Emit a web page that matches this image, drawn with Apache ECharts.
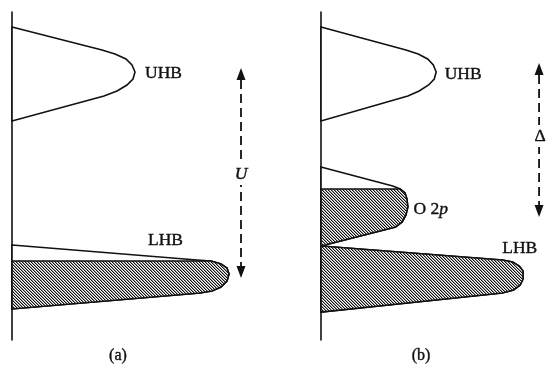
<!DOCTYPE html>
<html>
<head>
<meta charset="utf-8">
<script src="https://cdn.jsdelivr.net/npm/echarts@6/dist/echarts.min.js"></script>
<style>
  html, body { margin: 0; padding: 0; background: #fff; }
  #chart { width: 557px; height: 372px; }
</style>
</head>
<body>
<div id="chart"></div>
<script>
// band outlines as [density of states, energy] (arbitrary units)
const uhbA = [[0, 313], [90, 290], [103, 286], [114, 281], [120, 275], [123, 268], [121, 261], [115, 255], [105, 249], [92, 244], [0, 219]];
const lhbA = [[0, 95], [185, 80], [199, 79], [209, 76], [215, 72], [217, 66], [215, 59], [209, 53], [200, 49], [188, 47], [0, 31]];
const uhbB = [[0, 313], [90, 290], [103, 286], [113, 281], [119, 275], [122, 268], [120, 261], [114, 255], [104, 249], [92, 244], [0, 219]];
const o2pB = [[0, 173], [76, 154], [84, 151], [89, 147], [91, 141], [92, 133], [90, 125], [86, 118], [79, 113], [0, 94]];
const lhbB = [[0, 94], [192, 80], [203, 78], [210, 74], [214, 69], [214, 61], [211, 55], [204, 50], [192, 47], [0, 28]];

// occupied (hatched) up to this energy: 0 = empty band, Infinity = full band
const fermiUhb = 0;
const fermiA = 79;
const fermiO2p = 151;
const fermiLhbB = Infinity;

// energy gaps: [density position, top energy, bottom energy]
const gapU = [229, 272, 62];
const gapDelta = [231, 277, 123];

// annotations: [text, density, energy, align]
const labelsA = [
  ['UHB', 133, 267, 'left'],
  ['LHB', 136, 100, 'left'],
  ['{i|U}', 229, 166, 'center'],
  ['(a)', 106, -16, 'center']
];
const labelsB = [
  ['UHB', 131, 266, 'left'],
  ['{n|O 2}{i|p}', 98, 131, 'left'],
  ['LHB', 192, 92, 'left'],
  ['Δ', 232, 204, 'center'],
  ['(b)', 106, -16, 'center']
];

const chart = echarts.init(document.getElementById('chart'));

// diagonal hatch tile
const hatch = document.createElement('canvas');
hatch.width = 3;
hatch.height = 3;
const hctx = hatch.getContext('2d');
hctx.fillStyle = '#fff';
hctx.fillRect(0, 0, 3, 3);
for (let i = 0; i < 3; i++) {
  hctx.fillStyle = '#111';
  hctx.fillRect(i, i, 1, 1);
  hctx.fillStyle = '#999';
  hctx.fillRect((i + 1) % 3, i, 1, 1);
}

const FONT = '"Liberation Serif", "Times New Roman", serif';
const INK = '#111';

// keep the part of a polygon at or below energy f
function clipBelow(pts, f) {
  const out = [];
  for (let i = 0; i < pts.length; i++) {
    const a = pts[i], b = pts[(i + 1) % pts.length];
    const ain = a[1] <= f, bin = b[1] <= f;
    if (ain) out.push(a);
    if (ain !== bin) {
      const t = (f - a[1]) / (b[1] - a[1]);
      out.push([a[0] + t * (b[0] - a[0]), f]);
    }
  }
  return out;
}

function bandSeries(pts, fermi, g) {
  return {
    type: 'custom',
    xAxisIndex: g,
    yAxisIndex: g,
    data: [[0, 0]],
    silent: true,
    renderItem: (params, api) => {
      const outline = pts.map(p => api.coord(p));
      const filled = clipBelow(pts, fermi).map(p => api.coord(p));
      const children = [
        { type: 'polygon', shape: { points: outline }, style: { fill: '#fff', stroke: INK, lineWidth: 1.6 } }
      ];
      if (filled.length > 2) {
        children.push({ type: 'polygon', shape: { points: filled }, style: { fill: { image: hatch, repeat: 'repeat' }, stroke: INK, lineWidth: 1.6 } });
      }
      return { type: 'group', children: children };
    }
  };
}

function arrowSeries(gap, g) {
  return {
    type: 'custom',
    xAxisIndex: g,
    yAxisIndex: g,
    data: [[0, 0]],
    silent: true,
    z: 1,
    renderItem: (params, api) => {
      const top = api.coord([gap[0], gap[1]]);
      const bot = api.coord([gap[0], gap[2]]);
      const x = top[0], hl = 12, hw = 4.5;
      return {
        type: 'group',
        children: [
          { type: 'line', shape: { x1: x, y1: top[1] + hl, x2: x, y2: bot[1] - hl }, style: { stroke: INK, lineWidth: 1.8, lineDash: [9, 5] } },
          { type: 'polygon', shape: { points: [[x, top[1]], [x - hw, top[1] + hl], [x + hw, top[1] + hl]] }, style: { fill: INK } },
          { type: 'polygon', shape: { points: [[x, bot[1]], [x - hw, bot[1] - hl], [x + hw, bot[1] - hl]] }, style: { fill: INK } }
        ]
      };
    }
  };
}

function labelSeries(list, g) {
  return {
    type: 'custom',
    xAxisIndex: g,
    yAxisIndex: g,
    data: [[0, 0]],
    silent: true,
    z: 3,
    renderItem: (params, api) => ({
      type: 'group',
      children: list.map(([text, d, e, align]) => {
        const p = api.coord([d, e]);
        const caption = text.charAt(0) === '(';
        return {
          type: 'text',
          x: p[0],
          y: p[1],
          style: {
            text: text,
            align: align,
            verticalAlign: 'middle',
            fill: INK,
            stroke: INK,
            lineWidth: 0.4,
            fontFamily: FONT,
            fontSize: caption ? 16 : 17.5,
            backgroundColor: align === 'center' && !caption ? '#fff' : null,
            padding: [2, 0],
            rich: {
              i: { fontFamily: FONT, fontSize: 17.5, fontStyle: 'italic', fill: INK },
              n: { fontFamily: FONT, fontSize: 17.5, fill: INK }
            }
          }
        };
      })
    })
  };
}

const axisX = g => ({ type: 'value', gridIndex: g, min: 0, max: 250, show: false });
const axisY = g => ({
  type: 'value', gridIndex: g, min: 0, max: 328,
  axisLine: { show: true, lineStyle: { color: INK, width: 1.6 } },
  axisTick: { show: false }, axisLabel: { show: false }, splitLine: { show: false }
});

const option = {
  backgroundColor: '#fff',
  animation: false,
  grid: [
    { left: 12, top: 12, width: 250, height: 328 },
    { left: 321, top: 12, width: 250, height: 328 }
  ],
  xAxis: [axisX(0), axisX(1)],
  yAxis: [axisY(0), axisY(1)],
  series: [
    bandSeries(uhbA, fermiUhb, 0),
    bandSeries(lhbA, fermiA, 0),
    arrowSeries(gapU, 0),
    labelSeries(labelsA, 0),
    bandSeries(uhbB, fermiUhb, 1),
    bandSeries(o2pB, fermiO2p, 1),
    bandSeries(lhbB, fermiLhbB, 1),
    arrowSeries(gapDelta, 1),
    labelSeries(labelsB, 1)
  ]
};

chart.setOption(option);
</script>
</body>
</html>
